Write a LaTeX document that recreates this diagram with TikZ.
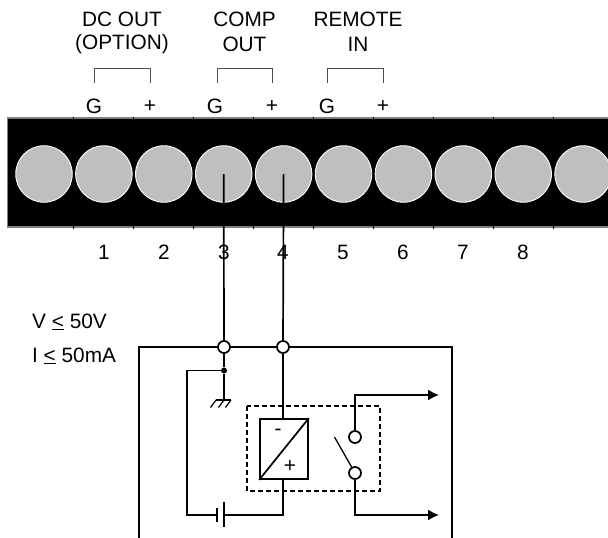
\documentclass[tikz,border=0pt]{standalone}
\usepackage{fontspec}
\setmainfont{Liberation Sans}
\usepackage{tikz}
\usetikzlibrary{arrows.meta}

\tikzset{
    lbl/.style={inner sep=0pt, font=\fontsize{20.8}{24}\selectfont},
    hole/.style={circle, draw=white, line width=0.9pt, fill=black!25, inner sep=0pt, minimum size=56.5pt},
    wire/.style={line width=1.7pt},
    thinwire/.style={line width=1pt, draw=black!70},
    term/.style={circle, draw, line width=1.7pt, fill=white, inner sep=0pt, minimum size=12pt},
    outarrow/.style={wire, -{Latex[length=11pt,width=11pt]}},
}

\begin{document}
\begin{tikzpicture}[x=1pt, y=-1pt]

    \useasboundingbox (0,0) rectangle (608,538);

    \draw[fill=black, draw=black!50, line width=1.5pt] (7.5,118) rectangle (615,227);
    \foreach \x in {73,133,193,253,313,373,433,493,553} {
        \draw[line width=1pt] (\x,116.5) -- (\x,119);
        \draw[line width=1pt] (\x,226) -- (\x,228.5);
    }
    \foreach \i [evaluate=\i as \x using 44+59.9*(\i-1)] in {1,...,10} {
        \node[hole] (hole\i) at (\x,174) {};
    }

    \node[lbl] (dcout) at (122,19) {DC OUT};
    \node[lbl] (option) at (122,44.5) {(OPTION)};
    \node[lbl] (comp) at (244.5,19) {COMP};
    \node[lbl] (out) at (244.5,44.5) {OUT};
    \node[lbl] (remote) at (358,19) {REMOTE};
    \node[lbl] (in) at (358,44.5) {IN};

    \foreach \a/\b in {94/150, 217/272, 327/383} {
        \draw[thinwire] (\a,83) -- (\a,68.5) -- (\b,68.5) -- (\b,83);
    }

    \foreach \x/\t in {94/G, 150/+, 215/G, 272/+, 327/G, 383/+} {
        \node[lbl] at (\x,106.5) {\t};
    }
    \foreach \x/\t in {104/1, 164/2, 224/3, 283/4, 343/5, 403/6, 463/7, 523/8} {
        \node[lbl] at (\x,252) {\t};
    }

    \node[lbl, anchor=west] (vmax) at (32,322) {V \underline{<} 50V};
    \node[lbl, anchor=west] (imax) at (32,356) {I \underline{<} 50mA};

    \draw[wire] (139,538) -- (139,347) -- (452,347) -- (452,538);

    \node[term] (termg) at (224,347) {};
    \node[term] (termp) at (283,347) {};
    \draw[wire] (hole4.center) -- (termg);
    \draw[wire] (hole5.center) -- (termp);

    \coordinate (gnd) at (224,400);
    \node[circle, fill, inner sep=0pt, minimum size=6pt] (joint) at (224,370.5) {};
    \draw[wire] (termg) -- (joint) -- (gnd);
    \draw[line width=1.2pt] (215.5,400) -- (231,400);
    \foreach \x in {216,224,231} {
        \draw[line width=1.2pt] (\x,400) -- (\x-5.5,407.5);
    }

    \node[draw, line width=1.7pt, minimum width=48pt, minimum height=60pt, inner sep=0pt] (conv) at (284,449) {};
    \draw[wire] (conv.south west) -- (conv.north east);
    \node[lbl] at (278,432) {-};
    \node[lbl] at (290,466) {+};
    \draw[wire] (termp) -- (conv.north -| termp);

    \draw[line width=1.1pt, dash pattern=on 5pt off 3pt] (247,406) rectangle (380,491);

    \coordinate (platea) at (217,515);
    \coordinate (plateb) at (224,515);
    \draw[wire] (joint) -- (187,370.5) -- (187,515) -- (platea);
    \draw[wire] (217,508) -- (217,522);
    \draw[wire] (224,502) -- (224,527);
    \draw[wire] (plateb) -- (283,515) -- (283,479);

    \node[term] (cona) at (355,437) {};
    \node[term] (conb) at (355,473) {};
    \draw[outarrow] (cona) -- (355,395) -- (439,395);
    \draw[outarrow] (conb) -- (355,515) -- (439,515);
    \draw[line width=1.3pt] (334.5,437) -- (conb);

\end{tikzpicture}
\end{document}
